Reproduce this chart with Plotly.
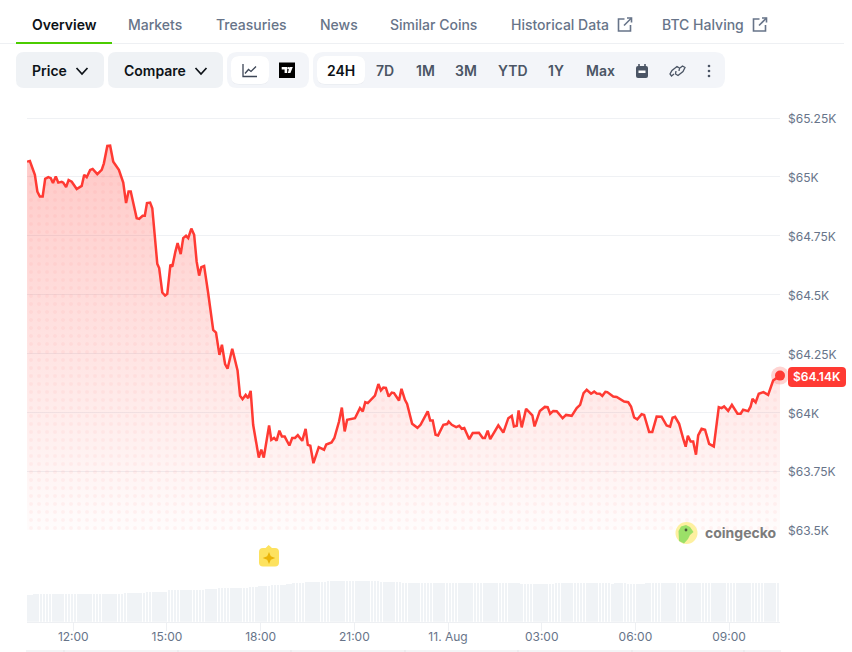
import plotly.graph_objects as go

# ---------- data ----------
hours = [10.52,10.61,10.77,10.85,10.93,11.02,11.10,11.20,11.28,11.35,11.44,11.52,11.63,11.68,11.77,11.85,11.95,12.11,12.27,12.35,
12.43,12.54,12.62,12.77,12.91,12.98,13.09,13.18,13.28,13.39,13.46,13.60,13.69,13.77,13.84,14.03,14.11,14.22,14.29,14.36,
14.46,14.53,14.64,14.69,14.75,14.85,14.94,15.01,15.11,15.17,15.27,15.34,15.44,15.52,15.61,15.68,15.78,15.87,15.95,16.03,
16.10,16.19,16.32,16.44,16.48,16.57,16.68,16.76,16.86,16.94,17.09,17.26,17.34,17.42,17.52,17.60,17.68,17.76,17.94,18.02,
18.10,18.27,18.34,18.43,18.51,18.60,18.68,18.77,18.92,19.01,19.10,19.19,19.33,19.44,19.51,19.59,19.69,19.86,20.03,20.10,
20.27,20.36,20.51,20.60,20.69,20.77,21.02,21.18,21.27,21.35,21.43,21.66,21.77,21.85,21.93,22.01,22.10,22.20,22.27,22.43,
22.51,22.62,22.69,22.85,23.02,23.12,23.35,23.43,23.51,23.60,23.68,23.85,23.97,24.02,24.12,24.26,24.36,24.44,24.52,24.68,
24.79,24.99,25.11,25.18,25.27,25.35,25.61,25.77,25.93,26.04,26.11,26.20,26.26,26.36,26.50,26.70,26.77,26.94,27.10,27.19,
27.27,27.37,27.48,27.67,27.78,27.96,28.12,28.23,28.34,28.44,28.58,28.68,28.76,28.86,28.94,29.04,29.10,29.29,29.40,29.64,
29.77,29.86,29.96,30.06,30.20,30.28,30.44,30.54,30.68,30.84,31.00,31.11,31.19,31.27,31.40,31.53,31.61,31.68,31.77,31.85,
31.94,32.01,32.12,32.23,32.36,32.51,32.67,32.76,32.84,32.97,33.09,33.27,33.37,33.45,33.61,33.69,33.75,33.85,33.95,34.10,
34.25,34.41,34.63]
price = [65065,65068,65009,64938,64917,64917,64992,64999,64995,64974,65002,64976,64979,64976,64957,64987,64980,64949,64962,65009,
64999,65030,65034,65012,65030,65058,65132,65133,65065,65040,65030,64976,64889,64938,64938,64825,64822,64835,64835,64889,
64891,64867,64697,64631,64613,64509,64496,64503,64627,64619,64683,64719,64672,64740,64750,64740,64781,64754,64641,64581,
64617,64622,64506,64379,64350,64339,64244,64287,64205,64185,64270,64178,64070,64056,64074,64060,64091,63947,63808,63841,
63808,63944,63883,63891,63880,63922,63897,63897,63859,63891,63891,63903,63879,63930,63862,63858,63784,63852,63841,63863,
63872,63891,63961,64020,63919,63968,63975,64018,64004,64043,64039,64071,64120,64093,64105,64104,64067,64084,64082,64050,
64100,64053,64036,63951,63934,63947,64004,63965,63965,63905,63902,63947,63950,63961,63947,63937,63943,63930,63933,63886,
63912,63913,63891,63891,63922,63886,63945,63914,63975,63985,63940,63943,64008,63936,64015,63987,63940,64006,64023,64022,
63994,64006,64005,63975,63989,63985,64018,64032,64082,64096,64079,64088,64080,64079,64070,64087,64086,64067,64065,64046,
64043,64025,63978,63970,63992,63989,63916,63916,63982,63981,63944,63939,63977,63981,63951,63888,63854,63900,63876,63876,
63820,63902,63930,63926,63866,63855,64022,64018,64025,64006,64032,63994,63994,64011,64005,64025,64057,64042,64079,64086,
64074,64135,64156]
volume = [26.5,26.5,27.4,27.5,27.5,27.5,27.4,27.5,27.5,27.5,27.5,27.6,27.5,27.5,27.5,27.5,27.4,27.5,27.5,27.5,
27.5,27.5,27.6,27.5,27.5,27.5,27.5,27.5,27.6,27.5,27.6,28.6,28.7,28.7,28.7,28.7,28.6,28.7,29.6,29.7,
29.7,29.7,29.8,29.7,30.2,31.3,31.6,31.7,31.7,31.7,31.6,31.7,31.7,32.0,31.6,31.6,31.7,32.6,32.7,32.7,
32.8,33.3,33.6,33.7,33.7,33.6,33.7,33.8,33.7,33.7,33.6,34.5,34.6,34.5,35.3,35.6,35.7,35.6,36.4,36.9,
37.0,37.0,37.0,37.6,38.2,38.3,38.3,38.3,39.0,39.6,39.7,39.7,39.7,39.7,39.6,39.8,40.5,40.7,40.7,40.7,
40.7,40.7,40.7,40.7,40.7,40.6,40.7,40.7,40.7,40.7,40.7,40.3,40.6,40.2,40.0,40.0,40.0,40.0,40.0,39.6,
39.1,39.0,39.0,39.0,39.1,39.0,39.0,39.1,39.0,39.0,38.6,39.0,39.0,39.0,39.0,39.1,39.0,39.0,39.0,39.1,
39.0,39.0,39.0,38.9,39.0,39.0,39.0,38.9,39.0,39.0,39.0,39.0,39.0,39.0,38.9,39.0,39.0,39.0,37.8,37.8,
37.7,37.7,37.7,37.8,37.7,37.7,37.7,37.7,38.2,38.7,38.7,38.7,38.8,38.7,38.7,38.7,38.7,38.8,38.7,38.7,
38.7,38.7,38.7,38.8,38.7,38.7,38.7,38.2,38.7,38.7,38.7,38.6,38.0,37.8,37.8,37.8,37.8,38.0,38.7,38.7,
38.7,38.8,38.7,38.7,38.7,38.7,38.7,38.7,38.7,38.7,38.8,38.7,38.7,38.7,38.7,38.8,38.7,38.7,38.7,38.7,
38.7,38.7,38.8,38.7,38.7,38.7,38.7,38.7,38.7,38.7,38.7,38.8,38.7,38.7,38.7,38.7,38.7,38.8,38.7,38.7,38.7]
volume_hours = [10.56 + i * 0.1 for i in range(len(volume))]
y_ticks = [63500, 63750, 64000, 64250, 64500, 64750, 65000, 65250]
y_labels = ["$63.5K", "$63.75K", "$64K", "$64.25K", "$64.5K", "$64.75K", "$65K", "$65.25K"]
x_ticks = [12, 15, 18, 21, 24, 27, 30, 33]
x_labels = ["12:00", "15:00", "18:00", "21:00", "11. Aug", "03:00", "06:00", "09:00"]
tab_labels = ["Overview", "Markets", "Treasuries", "News", "Similar Coins", "Historical Data", "BTC Halving"]
range_labels = ["24H", "7D", "1M", "3M", "YTD", "1Y", "Max"]
last_label = "$64.14K"

# ---------- page geometry ----------
W, H = 852, 652
RED = "#ff3a33"
INK = "#0d1217"
SLATE = "#4b5565"
GREY = "#677489"
PANEL = "#eff2f5"
PANEL2 = "#f3f5f9"

def X(p): return p / W
def Y(p): return 1 - p / H

shapes, ann = [], []

def rrect(x0, y0, x1, y1, r, fill, line=None, lw=1):
    d = (f"M {X(x0+r)} {Y(y0)} L {X(x1-r)} {Y(y0)} Q {X(x1)} {Y(y0)} {X(x1)} {Y(y0+r)} "
         f"L {X(x1)} {Y(y1-r)} Q {X(x1)} {Y(y1)} {X(x1-r)} {Y(y1)} "
         f"L {X(x0+r)} {Y(y1)} Q {X(x0)} {Y(y1)} {X(x0)} {Y(y1-r)} "
         f"L {X(x0)} {Y(y0+r)} Q {X(x0)} {Y(y0)} {X(x0+r)} {Y(y0)} Z")
    shapes.append(dict(type="path", xref="paper", yref="paper", path=d, fillcolor=fill,
                       line=dict(color=line or "rgba(0,0,0,0)", width=lw if line else 0)))

def poly(pts, color=None, fill=None, lw=1.5, close=False):
    d = "M " + " L ".join(f"{X(a)} {Y(b)}" for a, b in pts) + (" Z" if close else "")
    shapes.append(dict(type="path", xref="paper", yref="paper", path=d,
                       fillcolor=fill or "rgba(0,0,0,0)",
                       line=dict(color=color or "rgba(0,0,0,0)", width=lw if color else 0)))

def circle(cx, cy, r, fill=None, color=None, lw=1):
    shapes.append(dict(type="circle", xref="paper", yref="paper", x0=X(cx-r), x1=X(cx+r), y0=Y(cy+r), y1=Y(cy-r),
                       fillcolor=fill or "rgba(0,0,0,0)", line=dict(color=color or "rgba(0,0,0,0)", width=lw if color else 0)))

def text(s, x, y, size=14, color=INK, weight=500, anchor="center", family="Inter"):
    ann.append(dict(text=s, x=X(x), y=Y(y), xref="paper", yref="paper", showarrow=False, xanchor=anchor, yanchor="middle",
                    font=dict(family=family, size=size, color=color, weight=weight)))

def external(x, y):
    poly([(x+6, y), (x, y), (x, y+12), (x+12, y+12), (x+12, y+6)], color=GREY, lw=1.6)
    poly([(x+5.5, y+6.5), (x+13, y-1)], color=GREY, lw=1.6)
    poly([(x+8.5, y-1), (x+13, y-1), (x+13, y+3.5)], color=GREY, lw=1.6)

def chevron(x, y):
    poly([(x, y-3), (x+5.5, y+3), (x+11, y-3)], color=INK, lw=1.7)

# tabs
tab_x = [64.5, 155, 251.5, 338.5, 433.5, 560, 703]
for i, (s, x) in enumerate(zip(tab_labels, tab_x)):
    text(s, x, 24.2, 14, INK if i == 0 else GREY, 600 if i == 0 else 500)
poly([(0, 43.5), (844, 43.5)], color="#eef0f3", lw=1)
shapes.append(dict(type="rect", xref="paper", yref="paper", x0=X(16), x1=X(112), y0=Y(44), y1=Y(42),
                   fillcolor="#4bcc00", line=dict(width=0)))
external(618.5, 19)
external(753.5, 19)

# controls
rrect(16, 52, 104, 88, 8, PANEL)
text("Price", 49, 70.2, 14, INK, 600)
chevron(76.5, 71)
rrect(108, 52, 223, 88, 8, PANEL)
text("Compare", 154.5, 70.2, 14, INK, 600)
chevron(195.5, 71)
rrect(227, 52, 309, 88, 10, PANEL2)
rrect(231, 56, 269, 84.5, 8, "#e6e9ee")
rrect(231, 56, 269, 84, 8, "#ffffff")
poly([(243, 64), (243, 76.5), (257, 76.5)], color="#3d4656", lw=1.3)
poly([(245, 73.5), (248.5, 69.5), (251, 71.5), (256, 66.5)], color="#3d4656", lw=1.3)
shapes.append(dict(type="rect", xref="paper", yref="paper", x0=X(279), x1=X(295), y0=Y(78), y1=Y(62.5),
                   fillcolor="#000000", line=dict(width=0)))
poly([(281.7, 67), (287.2, 67), (287.2, 73), (284.6, 73), (284.6, 69.4), (281.7, 69.4)], fill="#ffffff", close=True)
poly([(289.5, 67), (292.8, 67), (290.4, 73), (287.8, 73)], fill="#ffffff", close=True)
circle(288.4, 68.2, 1.1, fill="#ffffff")

rrect(313, 52, 725, 88, 10, PANEL2)
rrect(317, 56, 365, 84.5, 8, "#e6e9ee")
rrect(317, 56, 365, 84, 8, "#ffffff")
range_x = [341, 385, 425, 466, 513, 556, 600]
for i, (s, x) in enumerate(zip(range_labels, range_x)):
    text(s, x, 70.2, 14, INK if i == 0 else SLATE, 600)
# calendar
rrect(636, 66, 648, 78, 2, "#4b5565")
shapes.append(dict(type="rect", xref="paper", yref="paper", x0=X(638.5), x1=X(645.5), y0=Y(73), y1=Y(70.5),
                   fillcolor="#ffffff", line=dict(width=0)))
poly([(639, 64), (639, 67)], color="#4b5565", lw=1.6)
poly([(645, 64), (645, 67)], color="#4b5565", lw=1.6)
# link
poly([(674, 74), (671.5, 76), (670, 74), (672, 70.5), (677, 66.5), (679.5, 68), (679, 71)], color="#4b5565", lw=1.3)
poly([(680, 68), (682.5, 66), (685, 67.5), (683, 71.5), (678, 75.5), (675.5, 74), (676, 71)], color="#4b5565", lw=1.3)
# dots
for yy in (66, 71, 76):
    circle(709, yy, 1.3, fill="#4b5565")

# last-price badge
rrect(788, 367, 846, 387, 4, RED)
text(last_label, 817, 376.6, 12, "#ffffff", 600)

# event badge
poly([(264.5, 549), (268.7, 545), (273, 549)], fill="#fde25f", close=True)
rrect(259, 548, 279, 566.5, 4, "#fde25f")
poly([(269, 552), (270.8, 556.2), (275.3, 558), (270.8, 559.8), (269, 564), (267.2, 559.8), (262.7, 558), (267.2, 556.2)], fill="#eab308", close=True)

# watermark
circle(686.5, 533, 11, fill="#fdf0a0")
poly([(679, 541), (678.5, 531), (681, 526.5), (686, 525), (690, 527), (693.5, 532), (690, 535), (688, 539), (684, 543.5)], fill="#9be068", close=True)
circle(686, 530, 1.4, fill="#4a5a3a")
text("coingecko", 741, 532.4, 14, "#7c7c7c", 700)

# navigator
shapes.append(dict(type="rect", xref="paper", yref="paper", x0=X(26), x1=X(781), y0=Y(652), y1=Y(650),
                   fillcolor="#f3f4f6", line=dict(width=0)))
for xx in (64, 178, 291, 405, 518, 632, 744):
    poly([(xx, 650), (xx, 652)], color="#e3e5e9", lw=1)

# ---------- figure ----------
fig = go.Figure()
fig.add_trace(go.Bar(x=volume_hours, y=volume, width=0.082, marker=dict(color="#f0f3f6", line=dict(width=0)),
                     xaxis="x", yaxis="y2", hoverinfo="skip", showlegend=False))
fig.add_trace(go.Scatter(x=hours, y=price, mode="none", fill="tozeroy", showlegend=False, hoverinfo="skip",
                         fillgradient=dict(type="vertical", start=65133, stop=63500,
                                           colorscale=[[0, "rgba(255,58,51,0.28)"], [1, "rgba(255,58,51,0.015)"]])))
fig.add_trace(go.Scatter(x=hours, y=price, mode="none", fill="tozeroy", showlegend=False, hoverinfo="skip",
                         fillcolor="rgba(0,0,0,0)",
                         fillpattern=dict(shape=".", size=8, solidity=0.2, fgcolor="rgba(255,58,51,0.05)",
                                          bgcolor="rgba(0,0,0,0)", fgopacity=1)))
fig.add_trace(go.Scatter(x=hours, y=price, mode="lines", line=dict(color=RED, width=2.5), showlegend=False))
fig.add_trace(go.Scatter(x=hours[-1:], y=price[-1:], mode="markers", cliponaxis=False, showlegend=False, hoverinfo="skip",
                         marker=dict(size=18, color="rgba(255,58,51,0.22)", line=dict(width=0))))
fig.add_trace(go.Scatter(x=hours[-1:], y=price[-1:], mode="markers", cliponaxis=False, showlegend=False, hoverinfo="skip",
                         marker=dict(size=10, color=RED, line=dict(width=0))))

fig.update_layout(
    width=W, height=H, autosize=False, margin=dict(l=0, r=0, t=0, b=0),
    paper_bgcolor="#ffffff", plot_bgcolor="#ffffff", showlegend=False,
    font=dict(family="Inter", size=12, color=GREY),
    shapes=shapes, annotations=ann, bargap=0,
    xaxis=dict(domain=[27 / W, 780 / W], range=[10.518, 34.63], anchor="y2", tickmode="array", tickvals=x_ticks,
               ticktext=x_labels, ticks="outside", ticklen=8, tickcolor="#eef0f3", showline=True, linecolor="#eef0f3",
               showgrid=False, zeroline=False, automargin=False, ticklabelstandoff=-4,
               tickfont=dict(family="Inter", size=12, color=GREY)),
    yaxis=dict(domain=[(H - 530) / H, (H - 100) / H], range=[63500, 65327], side="right", anchor="x", tickmode="array",
               tickvals=y_ticks, ticktext=y_labels, gridcolor="#eff1f4", gridwidth=1, zeroline=False, showline=False,
               ticks="", ticklabelstandoff=7, ticklabelshift=1, automargin=False,
               tickfont=dict(family="Inter", size=12, color=GREY)),
    yaxis2=dict(domain=[(H - 621.7) / H, (H - 576) / H], range=[0, 45.7], anchor="x", visible=False, automargin=False),
)
fig.write_html("out.html", config=dict(displayModeBar=False, responsive=False),
               default_width=f"{W}px", default_height=f"{H}px",
               post_script="document.documentElement.style.margin='0';document.body.style.margin='0';document.body.style.overflow='hidden';")
